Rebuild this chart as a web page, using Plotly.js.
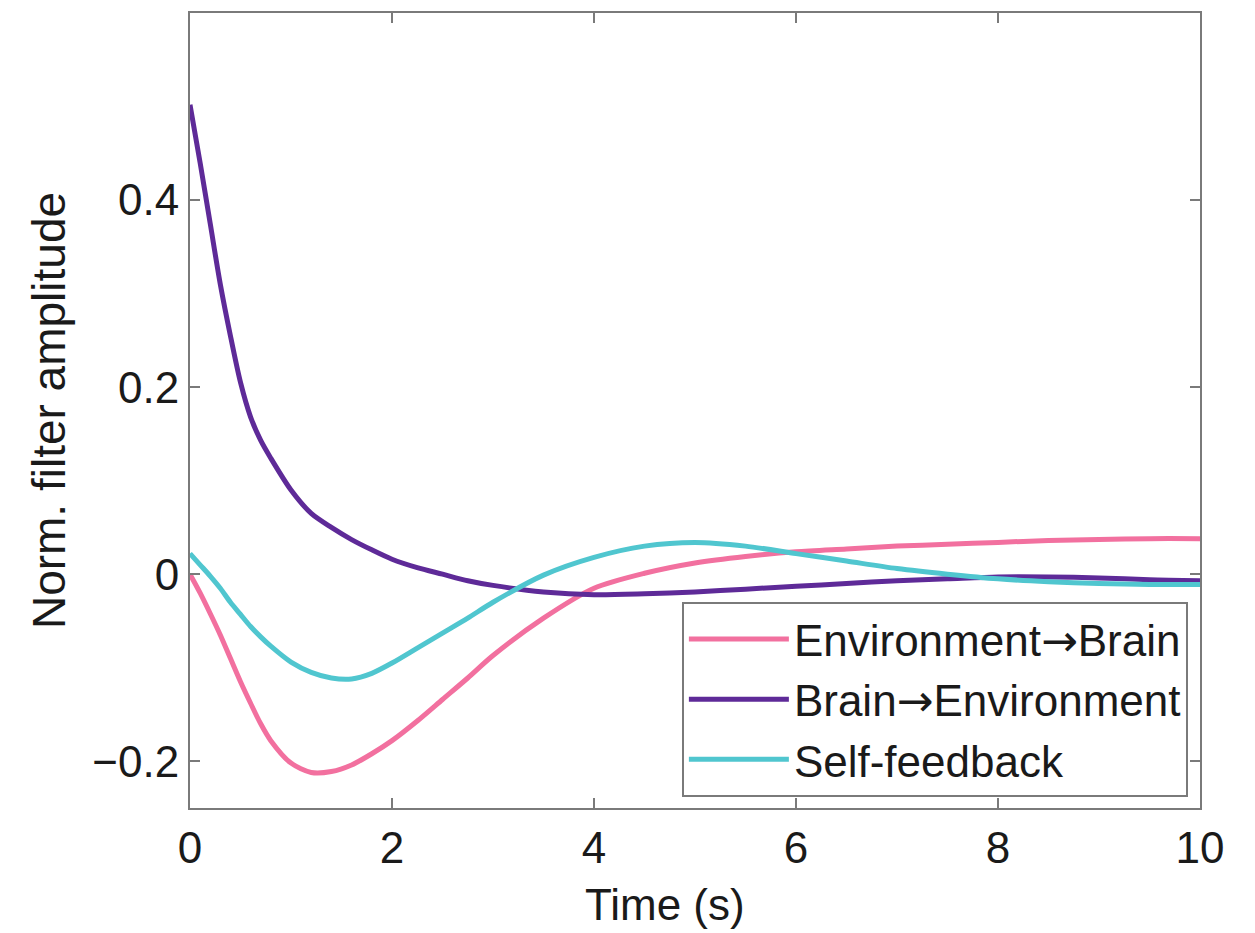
<!DOCTYPE html>
<html>
<head>
<meta charset="utf-8">
<script src="https://cdn.plot.ly/plotly-3.0.1.min.js"></script>
<style>html,body{margin:0;padding:0;background:#fff;}#chart{width:1255px;height:933px;}</style>
</head>
<body>
<div id="chart"></div>
<script>
const time = [0, 0.1, 0.2, 0.3, 0.4, 0.5, 0.6, 0.7, 0.8, 1.0, 1.2, 1.4, 1.6, 1.8, 2.0, 2.25, 2.5, 2.75, 3, 3.5, 4, 4.5, 5, 5.5, 6, 6.5, 7, 7.5, 8, 8.5, 9, 9.5, 10];
const envToBrain = [0.0, -0.02, -0.042, -0.065, -0.09, -0.115, -0.138, -0.16, -0.178, -0.202, -0.212, -0.211, -0.204, -0.192, -0.178, -0.157, -0.134, -0.111, -0.087, -0.047, -0.015, 0.001, 0.012, 0.019, 0.024, 0.027, 0.030, 0.032, 0.034, 0.036, 0.037, 0.038, 0.038];
const brainToEnv = [0.502, 0.44, 0.375, 0.31, 0.255, 0.205, 0.168, 0.143, 0.124, 0.09, 0.065, 0.05, 0.037, 0.026, 0.016, 0.007, 0.0, -0.007, -0.012, -0.019, -0.022, -0.021, -0.019, -0.016, -0.013, -0.010, -0.007, -0.005, -0.003, -0.003, -0.004, -0.006, -0.007];
const selfFeedback = [0.022, 0.01, -0.002, -0.015, -0.03, -0.043, -0.056, -0.067, -0.077, -0.094, -0.105, -0.111, -0.112, -0.106, -0.095, -0.079, -0.063, -0.047, -0.030, -0.001, 0.018, 0.030, 0.034, 0.030, 0.022, 0.014, 0.006, 0.000, -0.005, -0.008, -0.010, -0.011, -0.011];
const ARROW = "<span style=\"font-family:DejaVu Sans\">\u2192</span>";
const seriesNames = ["Environment" + ARROW + "Brain", "Brain" + ARROW + "Environment", "Self-feedback"];
const xTickVals = [0, 2, 4, 6, 8, 10];
const xTickText = ["0", "2", "4", "6", "8", "10"];
const yTickVals = [-0.2, 0, 0.2, 0.4];
const yTickText = ["\u22120.2", "0", "0.2", "0.4"];
const xTitle = "Time (s)";
const yTitle = "Norm. filter amplitude";

const FONT = "Liberation Sans, Arial, Helvetica, sans-serif";
const FS = 44;
const mk = (y, name, color) => ({
  x: time, y: y, name: name, type: "scatter", mode: "lines",
  line: {color: color, width: 5, shape: "spline", smoothing: 0.8}
});
const data = [
  mk(envToBrain, seriesNames[0], "#F2709F"),
  mk(brainToEnv, seriesNames[1], "#5E2A98"),
  mk(selfFeedback, seriesNames[2], "#50C6CF")
];
const axisCommon = {
  showline: true, mirror: "ticks", linecolor: "#7a7a7a", linewidth: 2,
  ticks: "inside", ticklen: 10, tickwidth: 2, tickcolor: "#7a7a7a",
  showgrid: false, zeroline: false,
  tickfont: {family: FONT, size: FS, color: "#1a1a1a"}
};
const layout = {
  width: 1255, height: 933,
  margin: {l: 190, r: 55, t: 13, b: 125},
  paper_bgcolor: "#ffffff", plot_bgcolor: "#ffffff",
  font: {family: FONT, color: "#1a1a1a"},
  xaxis: Object.assign({}, axisCommon, {
    range: [0, 10], tickvals: xTickVals, ticktext: xTickText
  }),
  yaxis: Object.assign({}, axisCommon, {
    range: [-0.25, 0.6], tickvals: yTickVals, ticktext: yTickText,
    title: {text: yTitle, font: {family: FONT, size: 46, color: "#1a1a1a"}, standoff: 12}
  }),
  annotations: [{
    text: xTitle, xref: "paper", yref: "paper", x: 0.47, y: -0.122,
    xanchor: "center", yanchor: "middle", showarrow: false,
    font: {family: FONT, size: FS, color: "#1a1a1a"}
  }],
  showlegend: true,
  legend: {
    x: 0.988, y: 0.014, xanchor: "right", yanchor: "bottom",
    bgcolor: "#ffffff", bordercolor: "#7a7a7a", borderwidth: 2,
    font: {family: FONT, size: 44, color: "#1a1a1a"},
    itemwidth: 100, tracegroupgap: 0
  }
};
Plotly.newPlot("chart", data, layout, {displayModeBar: false, staticPlot: true});
</script>
</body>
</html>
